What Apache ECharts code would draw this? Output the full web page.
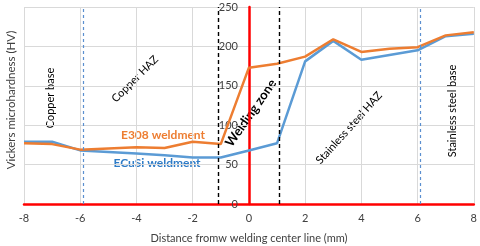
<!DOCTYPE html>
<html><head><meta charset="utf-8">
<script src="https://cdn.jsdelivr.net/npm/echarts@6/dist/echarts.min.js"></script>
<style>html,body{margin:0;padding:0;background:#fff}#c{width:480px;height:246px}</style>
</head><body><div id="c"></div>
<script>
const e308X = [-8,-7,-6,-4,-3,-2,-1,0,1,2,3,4,5,6,7,8];
const e308Y = [77,76,69,72,71,79,76,173,178,187,209,193,197,199,214,218];
const ecusiX = [-8,-7,-6,-4,-3,-2,-1,0,1,2,3,4,5,6,7,8];
const ecusiY = [79,79,68,64,62,59,59,68,77,181,207,183,189,195,213,216];
const zoneBlue = [-5.9, 6.1];
const zoneBlack = [-1.08, 1.09];
const xTicks = [-8,-6,-4,-2,0,2,4,6,8];
const yTicks = [0,50,100,150,200,250];

const FONT = 'Lato';
const GL = 24, GR = 6, W = 480;
const plotW = W - GL - GR;
const zeroOffset = -(plotW * (0 - xTicks[0]) / (xTicks[xTicks.length-1] - xTicks[0]));
const chart = echarts.init(document.getElementById('c'));
const pair = (xs, ys) => xs.map((x,i)=>[x, ys[i]]);
const ml = (vals, color, w, dash) => ({
  symbol: ['none','none'], silent: true, label: {show:false},
  lineStyle: {color: color, type: dash, width: w},
  data: vals.map(v => ({xAxis: v}))
});
const txt = (text, x, y, deg, font, fill) => ({
  type: 'text', x: x, y: y, rotation: deg * Math.PI / 180, originX: 0, originY: 0,
  style: {text: text, fill: fill || '#000', font: font, align: 'center', verticalAlign: 'middle'}
});
chart.setOption({
  animation: false,
  textStyle: {fontFamily: FONT},
  grid: {left: GL, right: GR, top: 7, bottom: 42},
  xAxis: {
    type: 'value', min: xTicks[0], max: xTicks[xTicks.length-1], interval: 2,
    axisLine: {show: true, lineStyle: {color: '#ff0000', width: 2.5}},
    axisTick: {show: false},
    axisLabel: {color: '#404040', fontSize: 11, fontFamily: FONT, margin: 9},
    splitLine: {show: true, lineStyle: {color: '#d9d9d9', width: 1}}
  },
  yAxis: {
    type: 'value', min: yTicks[0], max: yTicks[yTicks.length-1], interval: 50,
    position: 'left', offset: zeroOffset,
    axisLine: {show: true, onZero: false, lineStyle: {color: '#ff0000', width: 2.5}},
    axisTick: {show: false},
    axisLabel: {color: '#404040', fontSize: 11, fontFamily: FONT, margin: 11},
    splitLine: {show: true, lineStyle: {color: '#d9d9d9', width: 1}}
  },
  series: [
    {type: 'line', name: 'ECuSi weldment', data: pair(ecusiX, ecusiY), showSymbol: false,
     lineStyle: {color: '#5B9BD5', width: 2.5}, itemStyle: {color: '#5B9BD5'}, z: 3,
     markLine: ml(zoneBlue, '#5B8FD0', 1.2, [3,3])},
    {type: 'line', name: 'E308 weldment', data: pair(e308X, e308Y), showSymbol: false,
     lineStyle: {color: '#ED7D31', width: 2.5}, itemStyle: {color: '#ED7D31'}, z: 4,
     markLine: ml(zoneBlack, '#000000', 1.4, [4,3])}
  ],
  graphic: [
    txt('Vickers microhardness (HV)', 11, 100, 90, '11.5px ' + FONT, '#404040'),
    txt('Distance fromw welding center line (mm)', 249, 238, 0, '11px ' + FONT, '#404040'),
    txt('Copper base', 50, 98, 90, '11px ' + FONT),
    txt('Copper HAZ', 135, 79, 45, '11px ' + FONT),
    txt('Welding zone', 251, 113, 55, 'bold 13px ' + FONT),
    txt('Stainless steel HAZ', 349, 128, 48, '11px ' + FONT),
    txt('Stainless steel base', 452, 111, 90, '11px ' + FONT),
    txt('E308 weldment', 163, 135, 0, 'bold 12px ' + FONT, '#ED7D31'),
    txt('ECuSi weldment', 157, 163, 0, 'bold 12px ' + FONT, '#2E7BC6')
  ]
});
</script></body></html>
